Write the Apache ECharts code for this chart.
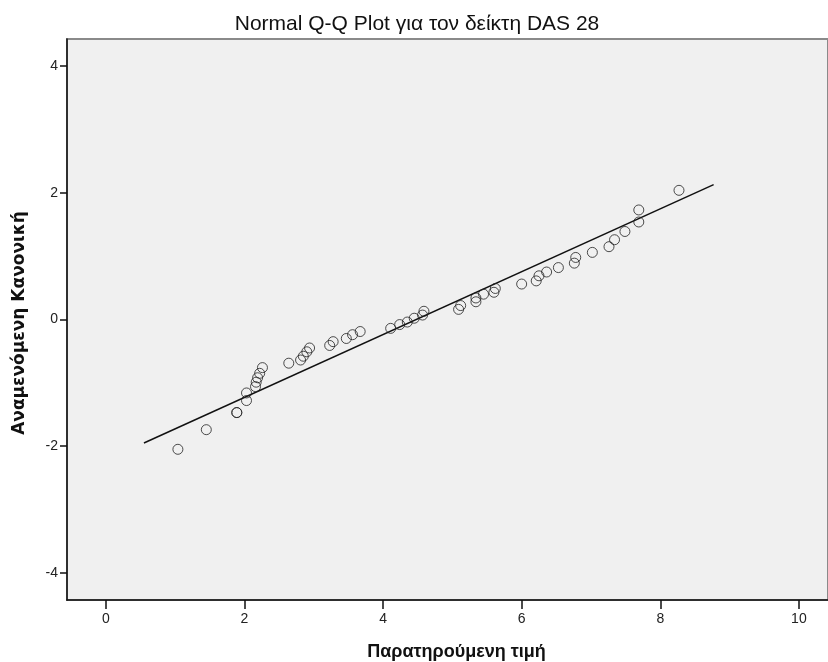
<!DOCTYPE html>
<html lang="el">

<head>
    <meta charset="UTF-8">
    <title>Normal Q-Q Plot</title>
    <script src="https://cdn.jsdelivr.net/npm/echarts@6/dist/echarts.min.js"></script>
    <style>
        body {
            margin: 0;
            background: #ffffff;
        }

        #qq {
            width: 828px;
            height: 662px;
        }
    </style>
</head>

<body>
    <div id="qq"></div>
    <script>
        // observed values (x) and expected normal scores (y)
        var observed = [1.04, 1.45, 1.89, 1.89, 2.03, 2.03, 2.16, 2.17, 2.19, 2.22, 2.26, 2.64, 2.81, 2.85, 2.90, 2.94,
            3.23, 3.28, 3.47, 3.56, 3.67, 4.11, 4.24, 4.35, 4.45, 4.57, 4.59, 5.09, 5.12, 5.34, 5.34, 5.45,
            5.60, 5.62, 6.00, 6.21, 6.25, 6.36, 6.53, 6.76, 6.78, 7.02, 7.26, 7.34, 7.49, 7.69, 7.69, 8.27];
        var expected = [-2.05, -1.74, -1.47, -1.47, -1.28, -1.16, -1.06, -0.99, -0.92, -0.85, -0.76, -0.69, -0.64, -0.58, -0.51, -0.45,
            -0.41, -0.35, -0.30, -0.24, -0.19, -0.14, -0.08, -0.04, 0.02, 0.07, 0.13, 0.16, 0.22, 0.28, 0.34, 0.40,
            0.43, 0.49, 0.56, 0.61, 0.69, 0.75, 0.82, 0.89, 0.98, 1.06, 1.15, 1.26, 1.39, 1.54, 1.73, 2.04];
        // reference line end points
        var lineX = [0.55, 8.77];
        var lineY = [-1.95, 2.13];
        var xTicks = [0, 2, 4, 6, 8, 10];
        var yTicks = [-4, -2, 0, 2, 4];

        var points = observed.map(function (v, i) { return [v, expected[i]]; });
        var refLine = lineX.map(function (v, i) { return [v, lineY[i]]; });

        var myChart = echarts.init(document.getElementById('qq'));
        var sans = "'Liberation Sans', sans-serif";
        var txt = { color: '#222', fontFamily: sans, fontSize: 14 };

        myChart.setOption({
            animation: false,
            title: {
                text: 'Normal Q-Q Plot για τον δείκτη DAS 28',
                left: 412,
                textAlign: 'center',
                top: 9,
                textStyle: { fontFamily: sans, fontSize: 21, fontWeight: 'normal', color: '#111' }
            },
            grid: {
                left: 67,
                right: 0,
                top: 39,
                bottom: 62,
                outerBoundsMode: 'none',
                show: true,
                backgroundColor: '#f0f0f0',
                borderColor: '#8a8a8a',
                borderWidth: 2
            },
            xAxis: {
                type: 'value',
                min: -0.56,
                max: 10.42,
                name: 'Παρατηρούμενη τιμή',
                nameLocation: 'middle',
                nameGap: 43,
                nameTextStyle: { fontFamily: sans, fontSize: 18, fontWeight: 'bold', color: '#111', padding: [0, 0, 0, 18] },
                splitLine: { show: false },
                axisLine: { onZero: false, lineStyle: { color: '#111', width: 1.5 } },
                axisTick: { customValues: xTicks, length: 9, lineStyle: { color: '#111', width: 1.5 } },
                axisLabel: Object.assign({ customValues: xTicks, margin: 12 }, txt)
            },
            yAxis: {
                type: 'value',
                min: -4.43,
                max: 4.43,
                name: 'Αναμενόμενη Κανονική',
                nameLocation: 'middle',
                nameGap: 39,
                nameTextStyle: { fontFamily: 'DejaVu Sans', fontSize: 17, fontWeight: 'bold', color: '#111', padding: [0, 7, 0, 0] },
                splitLine: { show: false },
                axisLine: { onZero: false, lineStyle: { color: '#111', width: 1.5 } },
                axisTick: { customValues: yTicks, length: 7, lineStyle: { color: '#111', width: 1.5 } },
                axisLabel: Object.assign({ customValues: yTicks, margin: 9 }, txt)
            },
            series: [{
                type: 'line',
                data: refLine,
                symbol: 'none',
                lineStyle: { color: '#111', width: 1.5 },
                z: 2
            }, {
                type: 'scatter',
                data: points,
                symbol: 'circle',
                symbolSize: 10,
                itemStyle: { color: 'rgba(0,0,0,0)', borderColor: '#222', borderWidth: 1 },
                z: 3
            }]
        });
    </script>
</body>

</html>
